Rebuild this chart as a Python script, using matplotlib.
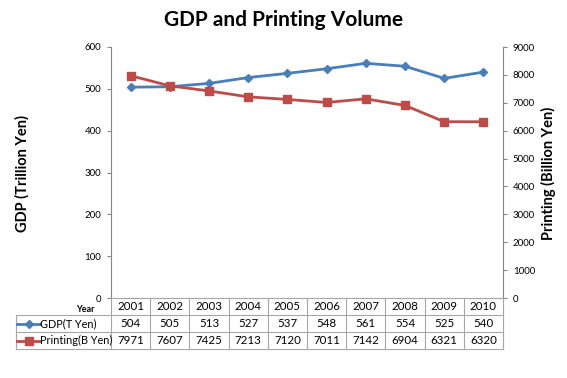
import matplotlib
matplotlib.use("Agg")
import matplotlib.pyplot as plt
from matplotlib.lines import Line2D

plt.rcParams['font.family'] = ['Lato', 'DejaVu Sans']

years = ["2001", "2002", "2003", "2004", "2005", "2006", "2007", "2008", "2009", "2010"]
gdp = [504, 505, 513, 527, 537, 548, 561, 554, 525, 540]
printing = [7971, 7607, 7425, 7213, 7120, 7011, 7142, 6904, 6321, 6320]
left_ticks = [0, 100, 200, 300, 400, 500, 600]
right_ticks = [0, 1000, 2000, 3000, 4000, 5000, 6000, 7000, 8000, 9000]

blue = "#4A7EBB"
red = "#BE4B48"
W, H = 567, 378
fig = plt.figure(figsize=(W / 100, H / 100), dpi=100)

x0, x1, ytop, ybot = 111, 503, 47, 298
ax = fig.add_axes([x0 / W, 1 - ybot / H, (x1 - x0) / W, (ybot - ytop) / H])
ax2 = ax.twinx()
xs = list(range(len(years)))
ax.plot(xs, gdp, color=blue, lw=2.0, marker="D", ms=4.5, zorder=3)
ax2.plot(xs, printing, color=red, lw=2.0, marker="s", ms=5.5, zorder=3)
ax.set_xlim(-0.5, len(years) - 0.5)
ax.set_ylim(0, 600)
ax2.set_ylim(0, 9000)
ax.set_yticks(left_ticks)
ax2.set_yticks(right_ticks)
ax.set_xticks([])
for a in (ax, ax2):
    for s in a.spines.values():
        s.set_visible(False)
    a.tick_params(axis='y', labelsize=7, length=3, width=0.8, color="#868686", pad=4)
ax.spines['left'].set_visible(True)
ax.spines['left'].set_color("#868686")
ax2.spines['right'].set_visible(True)
ax2.spines['right'].set_color("#868686")
ax.patch.set_alpha(0)

fig.text(0.5, 1 - 20 / H, "GDP and Printing Volume", ha="center", va="center",
         fontsize=15, fontweight="bold")
fig.text(22 / W, 1 - 173 / H, "GDP (Trillion Yen)", rotation=90, ha="center",
         va="center", fontsize=10.5, fontweight="bold")
fig.text(548 / W, 1 - 173 / H, "Printing (Billion Yen)", rotation=90, ha="center",
         va="center", fontsize=10.5, fontweight="bold")

# data table
rows_y = [298, 315, 332, 349]
tl = 16
col_edges = [tl, 111] + [111 + (x1 - x0) * (i + 1) / len(years) for i in range(len(years))]
lc = "#A6A6A6"
def fx(px): return px / W
def fy(py): return 1 - py / H
fig.add_artist(Line2D([fx(111), fx(x1)], [fy(298), fy(298)], color=lc, lw=0.8))
for yy in rows_y[1:]:
    fig.add_artist(Line2D([fx(tl), fx(x1)], [fy(yy), fy(yy)], color=lc, lw=0.8))
fig.add_artist(Line2D([fx(tl), fx(tl)], [fy(315), fy(349)], color=lc, lw=0.8))
for xx in col_edges[1:]:
    fig.add_artist(Line2D([fx(xx), fx(xx)], [fy(298), fy(349)], color=lc, lw=0.8))
fig.text(fx(85), fy(310), "Year", ha="center", va="center", fontsize=6.5, fontweight="bold")
for i, y in enumerate(years):
    cx = (col_edges[i + 1] + col_edges[i + 2]) / 2
    fig.text(fx(cx), fy(306.5), y, ha="center", va="center", fontsize=8.3)
    fig.text(fx(cx), fy(323.5), str(gdp[i]), ha="center", va="center", fontsize=8.3)
    fig.text(fx(cx), fy(340.5), str(printing[i]), ha="center", va="center", fontsize=8.3)
fig.add_artist(Line2D([fx(17), fx(40)], [fy(323.5), fy(323.5)], color=blue, lw=2.0))
fig.add_artist(Line2D([fx(17), fx(40)], [fy(340.5), fy(340.5)], color=red, lw=2.0))
fig.add_artist(Line2D([fx(29)], [fy(340.5)], color=red, marker="s", ms=5.5, lw=0))
fig.add_artist(Line2D([fx(29)], [fy(323.5)], color=blue, marker="D", ms=4.0, lw=0))
fig.text(fx(40), fy(323.5), "GDP(T Yen)", ha="left", va="center", fontsize=7.8)
fig.text(fx(40), fy(340.5), "Printing(B Yen)", ha="left", va="center", fontsize=7.8)

fig.savefig("out.png", dpi=100)
